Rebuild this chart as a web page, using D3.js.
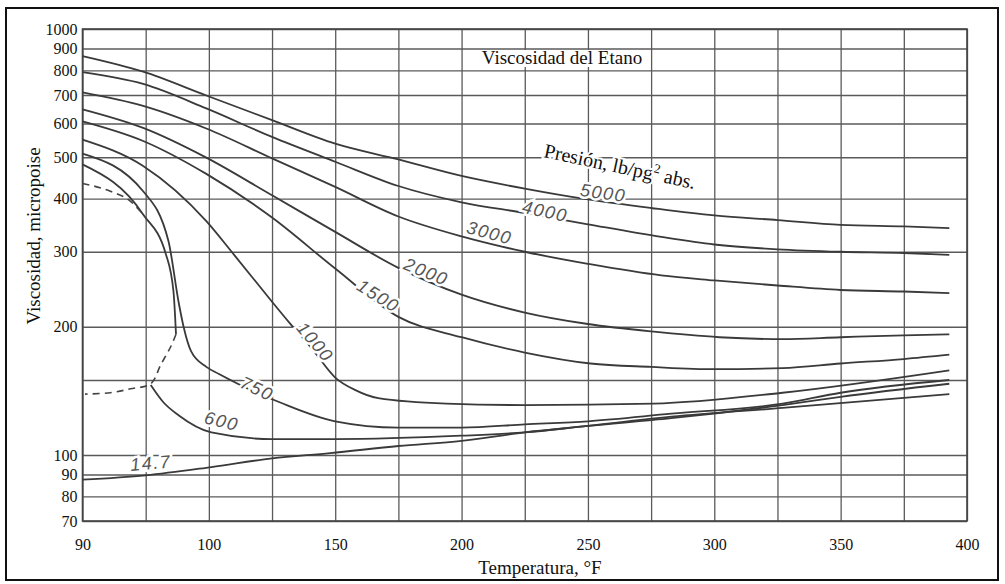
<!DOCTYPE html>
<html>
<head>
<meta charset="utf-8">
<script src="https://cdn.jsdelivr.net/npm/d3@7"></script>
<style>
    body { margin: 0; background: #fff; }
    svg { display: block; font-family: "Liberation Serif", "Times New Roman", serif; }
</style>
</head>
<body>
<div class="visual"></div>
<script>
// [temperature °F, viscosity micropoise]
const p5000 = [[50,864],[74,794],[99,698],[125,611],[150,538],[175,494],[200,452],[225,422],[250,398],[275,380],[300,365],[325,356],[350,347],[375,344],[393,341]];
const p4000 = [[50,792],[74,743],[99,651],[125,558],[150,488],[175,428],[200,392],[225,370],[250,348],[279,325],[300,312],[325,304],[350,300],[375,298],[393,295]];
const p3000 = [[50,710],[74,660],[99,584],[125,497],[150,426],[175,363],[200,326],[225,300],[250,281],[279,264],[300,257],[325,250],[350,244],[375,242],[393,240]];
const p2000 = [[50,648],[74,586],[99,499],[125,407],[150,334],[175,275],[200,238],[225,216],[250,203],[275,195],[302,189],[327,187],[350,189],[375,191],[393,192]];
const p1500 = [[50,607],[74,546],[99,457],[125,361],[150,274],[175,211],[200,189],[225,174],[251,164],[275,161],[300,159],[327,160],[350,164],[375,168],[393,172]];
const p1000 = [[50,550],[74,477],[99,354],[110,295],[125,229],[132,204],[141,177],[150,152],[158,142],[167,136],[194,132],[225,131],[276,132],[327,140],[393,158]];
const p750 = [[50,510],[74,416],[84,318],[88,229],[90,200],[93,175],[99,161],[104,155],[119,140],[128,133],[150,120],[175,116],[200,116],[225,118],[250,120],[283,125],[327,132],[350,140],[393,150]];
const p600liq = [[50,481],[74,367],[83,296],[86,242],[87,192]];
const p600vap = [[77,146],[82,133],[88,124],[101,113],[125,109],[150,109],[200,111],[225,113],[250,117],[283,122],[327,131],[350,137],[393,147]];
const p14_7 = [[50,87.5],[75,89.6],[101,93.7],[125,98.2],[148,101],[175,105],[200,108],[225,113],[250,117],[283,123],[327,129],[393,139]];
const satLiquid = [[50,434],[61,416],[69,394],[74,367]];
const satVapor = [[87,192],[85,180],[81,163],[77,147],[69,143],[61,140],[51,139]];

const xGrid = [50,75,100,125,150,175,200,225,250,275,300,325,350,375,400];
const xTickValues = [50,100,150,200,250,300,350,400];
const xTickLabels = ["90","100","150","200","250","300","350","400"];
const yGrid = [70,80,90,100,150,200,300,400,500,600,700,800,900,1000];
const yTickLabels = [70,80,90,100,200,300,400,500,600,700,800,900,1000];

const curveNames = ["5000","4000","3000","2000","1500","1000","750","600","14.7"];
// label anchor [°F, micropoise]
const labelAt = [[256,412],[233,373],[211,332],[186,269],[167,236],[142,184],[119,143],[105,120],[77,95.6]];
const labelRot = [8,12,15,22,32,50,25,14,-5];

function display() {
    const W = 1005, H = 584;
    const svg = d3.select(".visual")
        .append("svg")
        .attr("width", W)
        .attr("height", H);

    const x = d3.scaleLinear().domain([50, 400]).range([82.5, 967]);
    const y = d3.scaleLog().domain([70, 1000]).range([521, 29]);
    const plotW = x(400) - x(50);
    const plotH = y(70) - y(1000);

    svg.append("rect")
        .attr("x", 6).attr("y", 8)
        .attr("width", 992).attr("height", 572)
        .attr("fill", "none")
        .attr("stroke", "#111")
        .attr("stroke-width", 2);

    const gx = svg.append("g")
        .attr("transform", `translate(0,${y(70)})`)
        .call(d3.axisBottom(x)
            .tickValues(xGrid)
            .tickSize(-plotH)
            .tickPadding(18)
            .tickFormat(d => {
                const i = xTickValues.indexOf(d);
                return i < 0 ? "" : xTickLabels[i];
            }));

    const gy = svg.append("g")
        .attr("transform", `translate(${x(50)},0)`)
        .call(d3.axisLeft(y)
            .tickValues(yGrid)
            .tickSize(-plotW)
            .tickPadding(5)
            .tickFormat(d => yTickLabels.includes(d) ? d : ""));

    [gx, gy].forEach(g => {
        g.select(".domain").remove();
        g.selectAll(".tick line")
            .attr("stroke", "#5a5a5a")
            .attr("stroke-width", 1.3);
        g.selectAll(".tick text")
            .style("font-family", "'Liberation Serif', serif")
            .style("font-size", "16px")
            .attr("fill", "#111");
    });

    svg.append("rect")
        .attr("x", x(50)).attr("y", y(1000))
        .attr("width", plotW).attr("height", plotH)
        .attr("fill", "none")
        .attr("stroke", "#444")
        .attr("stroke-width", 1.6);

    const line = d3.line()
        .x(d => x(d[0]))
        .y(d => y(d[1]))
        .curve(d3.curveMonotoneX);

    // vapour branch runs backwards in temperature
    const backLine = d3.line()
        .x(d => x(d[0]))
        .y(d => y(d[1]))
        .curve(d3.curveCatmullRom.alpha(0.5));

    const series = [p5000, p4000, p3000, p2000, p1500, p1000, p750, p600liq, p600vap, p14_7];
    svg.append("g")
        .selectAll("path")
        .data(series)
        .enter()
        .append("path")
        .attr("d", line)
        .attr("fill", "none")
        .attr("stroke", "#3a3a3a")
        .attr("stroke-width", 1.8);

    svg.append("g")
        .selectAll("path")
        .data([satLiquid, satVapor])
        .enter()
        .append("path")
        .attr("d", (d, i) => i === 0 ? line(d) : backLine(d))
        .attr("fill", "none")
        .attr("stroke", "#444")
        .attr("stroke-width", 1.6)
        .attr("stroke-dasharray", "7,5");

    svg.append("g")
        .selectAll("text")
        .data(curveNames)
        .enter()
        .append("text")
        .attr("transform", (d, i) => `translate(${x(labelAt[i][0])},${y(labelAt[i][1])}) rotate(${labelRot[i]})`)
        .attr("text-anchor", "middle")
        .attr("dominant-baseline", "central")
        .style("font-family", "'Liberation Sans', sans-serif")
        .style("font-style", "italic")
        .style("font-size", "18px")
        .style("letter-spacing", "1.5px")
        .attr("fill", "#555")
        .attr("stroke", "#fff")
        .attr("stroke-width", 5)
        .attr("paint-order", "stroke")
        .text(d => d);

    // title box
    svg.append("rect")
        .attr("x", 476).attr("y", 50)
        .attr("width", 172).attr("height", 17)
        .attr("fill", "#fff");
    svg.append("text")
        .attr("x", 562).attr("y", 64)
        .attr("text-anchor", "middle")
        .style("font-size", "19px")
        .attr("fill", "#111")
        .text("Viscosidad del Etano");

    const pres = svg.append("text")
        .attr("transform", "translate(543,157) rotate(12)")
        .style("font-size", "20px")
        .attr("fill", "#111")
        .attr("stroke", "#fff")
        .attr("stroke-width", 4)
        .attr("paint-order", "stroke");
    pres.append("tspan").text("Presión, lb/pg");
    pres.append("tspan").attr("dy", -8).style("font-size", "13px").text("2");
    pres.append("tspan").attr("dy", 8).text(" abs.");

    svg.append("text")
        .attr("x", 540).attr("y", 574)
        .attr("text-anchor", "middle")
        .style("font-size", "19px")
        .attr("fill", "#111")
        .text("Temperatura, °F");

    svg.append("text")
        .attr("transform", "translate(40,236) rotate(-90)")
        .attr("text-anchor", "middle")
        .style("font-size", "19px")
        .attr("fill", "#111")
        .text("Viscosidad, micropoise");
}

window.onload = function() {
    display();
};
</script>
</body>
</html>
